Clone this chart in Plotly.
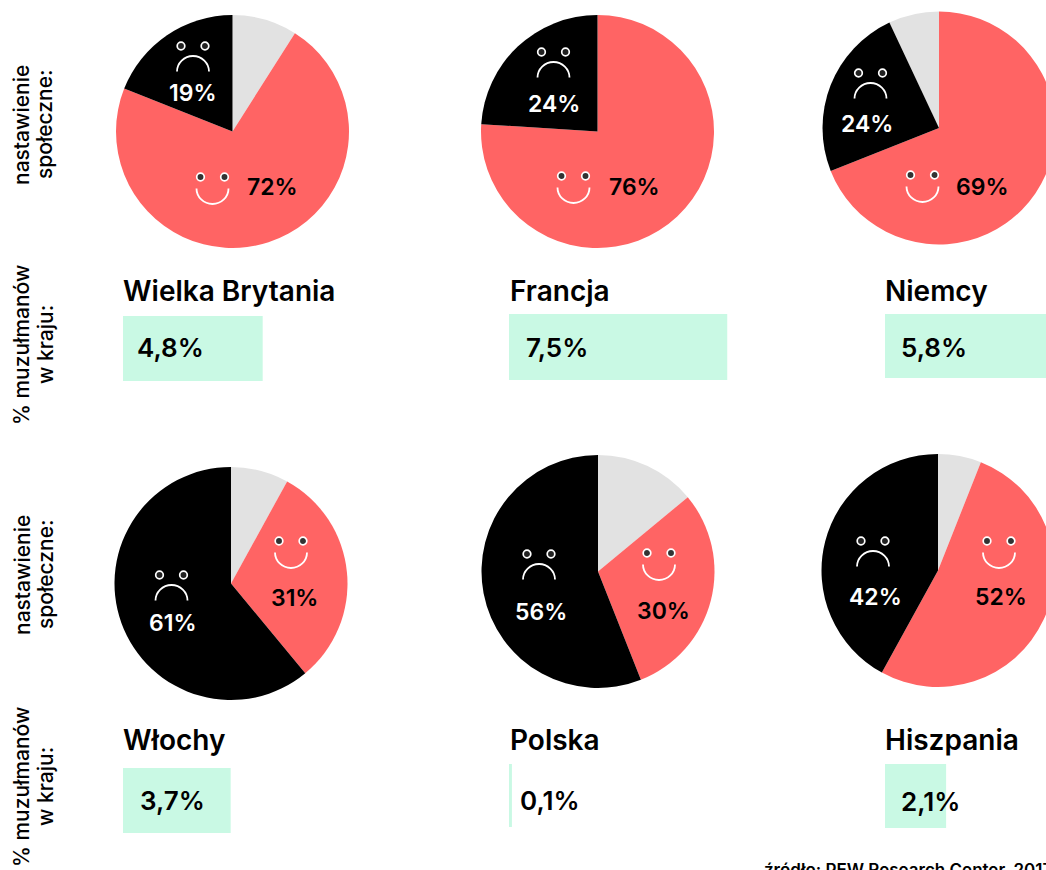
import plotly.graph_objects as go

# ---- data ----
countries = ["Wielka Brytania", "Francja", "Niemcy", "Włochy", "Polska", "Hiszpania"]
neutral = [9, 0, 7, 8, 14, 6]
positive = [72, 76, 69, 31, 30, 52]
negative = [19, 24, 24, 61, 56, 42]
muslim_share = [4.8, 7.5, 5.8, 3.7, 0.1, 2.1]
share_labels = ["4,8%", "7,5%", "5,8%", "3,7%", "0,1%", "2,1%"]
source_text = "źródło: PEW Research Center, 2017"
row_label_attitude = ["nastawienie", "społeczne:"]
row_label_share = ["% muzułmanów", "w kraju:"]

# ---- layout (pixels of the photographed page) ----
W, H = 1200, 950
pie_center = [(232.5, 131.5), (597.5, 131.5), (939, 128), (231, 583.5), (598, 571.5), (938, 570.5)]
pie_r = 116.5
pie_rotation = [0, 0, -25.2, 0, 0, 0]
bar_left = [123, 509, 885, 123, 509, 885]
bar_top = [316, 314, 314, 768, 764, 764]
bar_bottom = [381, 380, 378, 833, 827, 828]
px_per_pct = 29.1
name_pos = [(121, 291), (508, 291), (883, 291), (121, 740), (508, 740), (883, 740)]
share_pos = [(135, 348), (524, 348), (899, 348), (138, 800), (518, 800), (899, 801)]
frown_face = [(193, 46), (553.5, 52), (870.5, 73), (171.5, 575), (539, 554), (873, 541)]
smile_face = [(212.5, 177), (573.5, 176), (922.5, 175), (291, 541), (659, 553), (999, 541)]
neg_label = [(193, 93), (554, 104), (867, 124), (173, 623), (541, 612), (875, 597)]
pos_label = [(272, 187), (634, 187), (982, 187), (294, 598), (663, 611), (1001, 597)]
RED, GREY, BLACK, GREEN = "#FF6464", "#E2E2E2", "#000000", "#C9F9E4"
FONT = "Inter"


def fx(x):
    return x / W


def fy(y):
    return 1 - y / H


fig = go.Figure()
ann = []
shapes = []


def text(x, y, s, size, color=BLACK, weight=600, anchor="left", angle=0):
    ann.append(dict(x=fx(x), y=fy(y), xref="paper", yref="paper", text=s, showarrow=False,
                    xanchor=anchor, yanchor="middle", textangle=angle,
                    font=dict(family=FONT, size=size, color=color, weight=weight)))


def face(cx, eye_y, smile, inner):
    for dx in (-12, 12):
        shapes.append(dict(type="circle", xref="paper", yref="paper", layer="above",
                           x0=fx(cx + dx - 3.8), x1=fx(cx + dx + 3.8),
                           y0=fy(eye_y + 3.8), y1=fy(eye_y - 3.8),
                           fillcolor=inner, line=dict(color="#FFFFFF", width=1.7)))
    rx, ry, k = 16, 15.5, 0.5523
    if smile:
        y0 = eye_y + 11.5
        sign = 1
    else:
        y0 = eye_y + 25.5
        sign = -1
    x0, x1 = cx - rx, cx + rx
    pts = [(x0, y0), (x0, y0 + sign * k * ry), (cx - k * rx, y0 + sign * ry), (cx, y0 + sign * ry),
           (cx + k * rx, y0 + sign * ry), (x1, y0 + sign * k * ry), (x1, y0)]
    p = [f"{fx(a):.5f} {fy(b):.5f}" for a, b in pts]
    path = f"M {p[0]} C {p[1]} {p[2]} {p[3]} C {p[4]} {p[5]} {p[6]}"
    shapes.append(dict(type="path", path=path, xref="paper", yref="paper", layer="above",
                       line=dict(color="#FFFFFF", width=1.8)))


for i, name in enumerate(countries):
    cx, cy = pie_center[i]
    fig.add_trace(go.Pie(
        values=[neutral[i], positive[i], negative[i]],
        labels=["brak zdania", "pozytywne", "negatywne"],
        marker=dict(colors=[GREY, RED, BLACK], line=dict(width=0)),
        sort=False, direction="clockwise", rotation=pie_rotation[i],
        textinfo="none", showlegend=False, hoverinfo="label+value",
        domain=dict(x=[fx(cx - pie_r), fx(cx + pie_r)], y=[fy(cy + pie_r), fy(cy - pie_r)]),
    ))
    suffix = "" if i == 0 else str(i + 1)
    axis_w = 240
    fig.add_trace(go.Bar(x=[muslim_share[i]], y=[0], orientation="h", width=1,
                         marker=dict(color=GREEN, line=dict(width=0)), showlegend=False,
                         xaxis="x" + suffix, yaxis="y" + suffix, hoverinfo="x"))
    fig.update_layout({
        "xaxis" + suffix: dict(domain=[fx(bar_left[i]), fx(bar_left[i] + axis_w)],
                               range=[0, axis_w / px_per_pct], visible=False, fixedrange=True,
                               anchor="y" + suffix),
        "yaxis" + suffix: dict(domain=[fy(bar_bottom[i]), fy(bar_top[i])], range=[-0.5, 0.5],
                               visible=False, fixedrange=True, anchor="x" + suffix),
    })
    text(name_pos[i][0], name_pos[i][1], name, 28)
    text(share_pos[i][0], share_pos[i][1], share_labels[i], 26)
    text(neg_label[i][0], neg_label[i][1], f"{negative[i]}%", 23, "#FFFFFF", anchor="center")
    text(pos_label[i][0], pos_label[i][1], f"{positive[i]}%", 23, anchor="center")
    face(frown_face[i][0], frown_face[i][1], False, "#222222")
    face(smile_face[i][0], smile_face[i][1], True, "#333333")

for yc in (125, 575):
    text(22, yc, row_label_attitude[0], 21, anchor="center", angle=-90, weight=500)
    text(45, yc, row_label_attitude[1], 21, anchor="center", angle=-90, weight=500)
for yc in (345, 787):
    text(21, yc, row_label_share[0], 21, anchor="center", angle=-90, weight=500)
    text(45, yc, row_label_share[1], 21, anchor="center", angle=-90, weight=500)
text(762, 870, source_text, 17, weight=600)

fig.update_layout(width=W, height=H, margin=dict(l=0, r=0, t=0, b=0), autosize=False,
                  paper_bgcolor="#FFFFFF", plot_bgcolor="rgba(0,0,0,0)",
                  annotations=ann, shapes=shapes, barmode="overlay", showlegend=False)

fig.write_html("out.html", config={"displayModeBar": False},
               post_script="document.body.style.margin='0';document.body.style.overflow='hidden';"
                           "document.documentElement.style.overflow='hidden';")
